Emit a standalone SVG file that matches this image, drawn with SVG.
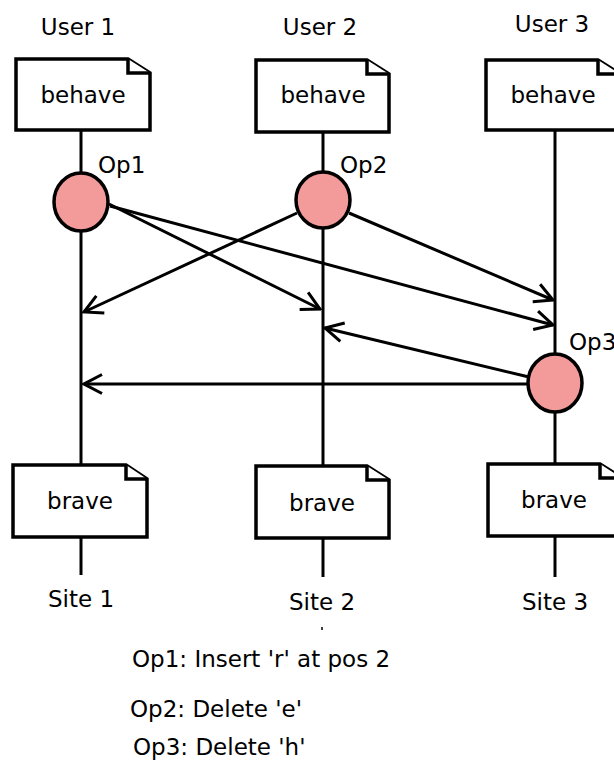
<svg xmlns="http://www.w3.org/2000/svg" width="614" height="761" viewBox="0 0 614 761">
<style>
text{font-family:"DejaVu Sans","Liberation Sans",sans-serif;font-size:23px;fill:#000}
.c{text-anchor:middle}
.doc{fill:#fff;stroke:#000;stroke-width:3.5;stroke-linejoin:miter}
.ln{stroke:#000;stroke-width:3;fill:none}
.op{fill:#f29b9a;stroke:#000;stroke-width:3.5}
.ar{stroke:#000;stroke-width:3;fill:none;marker-end:url(#ah)}
</style>
<defs>
<marker id="ah" markerUnits="userSpaceOnUse" viewBox="-22 -12 24 24" markerWidth="24" markerHeight="24" refX="0" refY="0" orient="auto">
<path d="M-18,-9.5 L0,0 L-18,9.5" fill="none" stroke="#000" stroke-width="3"/>
</marker>
</defs>
<g id="lifelines">
<line class="ln" x1="81" y1="130" x2="81" y2="172"/>
<line class="ln" x1="81" y1="232" x2="81" y2="465"/>
<line class="ln" x1="81" y1="537" x2="81" y2="575"/>
<line class="ln" x1="323" y1="132" x2="323" y2="172"/>
<line class="ln" x1="323" y1="228" x2="323" y2="466"/>
<line class="ln" x1="323" y1="538" x2="323" y2="577"/>
<line class="ln" x1="555" y1="130" x2="555" y2="354"/>
<line class="ln" x1="555" y1="412" x2="555" y2="464"/>
<line class="ln" x1="555" y1="536" x2="555" y2="577"/>
</g>
<g id="connectors">
<line class="ar" x1="109" y1="204" x2="320" y2="309"/>
<line class="ar" x1="110" y1="206" x2="553" y2="325"/>
<line class="ar" x1="297" y1="213" x2="84" y2="312"/>
<line class="ar" x1="349" y1="213" x2="553" y2="300"/>
<line class="ar" x1="529" y1="377" x2="325" y2="328"/>
<line class="ar" x1="528" y1="384" x2="84" y2="384"/>
</g>
<g id="user1"><text class="c" x="78" y="35">User 1</text></g>
<g id="user2"><text class="c" x="320" y="35">User 2</text></g>
<g id="user3"><text class="c" x="552" y="32">User 3</text></g>
<g id="doc1-top">
<path class="doc" d="M16,59 H128 L150,73 V130 H16 Z"/>
<path class="doc" d="M128,59 V73 H150"/>
<text class="c" x="83" y="103">behave</text>
</g>
<g id="doc2-top">
<path class="doc" d="M256,60 H367 L389,74 V132 H256 Z"/>
<path class="doc" d="M367,60 V74 H389"/>
<text class="c" x="323" y="103">behave</text>
</g>
<g id="doc3-top">
<path class="doc" d="M486,60 H598 L620,74 V130 H486 Z"/>
<path class="doc" d="M598,60 V74 H620"/>
<text class="c" x="553" y="103">behave</text>
</g>
<g id="op1">
<ellipse class="op" cx="81" cy="202" rx="27" ry="29"/>
<text x="98" y="173">Op1</text>
</g>
<g id="op2">
<ellipse class="op" cx="323" cy="200" rx="27" ry="28"/>
<text x="340" y="173">Op2</text>
</g>
<g id="op3">
<ellipse class="op" cx="555" cy="383" rx="27" ry="29"/>
<text x="569" y="350">Op3</text>
</g>
<g id="doc1-bottom">
<path class="doc" d="M13,465 H126 L147,479 V537 H13 Z"/>
<path class="doc" d="M126,465 V479 H147"/>
<text class="c" x="80" y="509">brave</text>
</g>
<g id="doc2-bottom">
<path class="doc" d="M256,466 H367 L389,480 V538 H256 Z"/>
<path class="doc" d="M367,466 V480 H389"/>
<text class="c" x="322" y="511">brave</text>
</g>
<g id="doc3-bottom">
<path class="doc" d="M488,464 H600 L622,478 V536 H488 Z"/>
<path class="doc" d="M600,464 V478 H622"/>
<text class="c" x="554" y="508">brave</text>
</g>
<g id="site1"><text class="c" x="81" y="607">Site 1</text></g>
<g id="site2"><text class="c" x="322" y="610">Site 2</text></g>
<g id="site3"><text class="c" x="555" y="610">Site 3</text></g>
<line x1="322" y1="627" x2="322" y2="630" stroke="#000" stroke-width="1.5"/>
<g id="legend">
<text x="132" y="667">Op1: Insert 'r' at pos 2</text>
<text x="130" y="717">Op2: Delete 'e'</text>
<text x="133" y="755">Op3: Delete 'h'</text>
</g>
</svg>
